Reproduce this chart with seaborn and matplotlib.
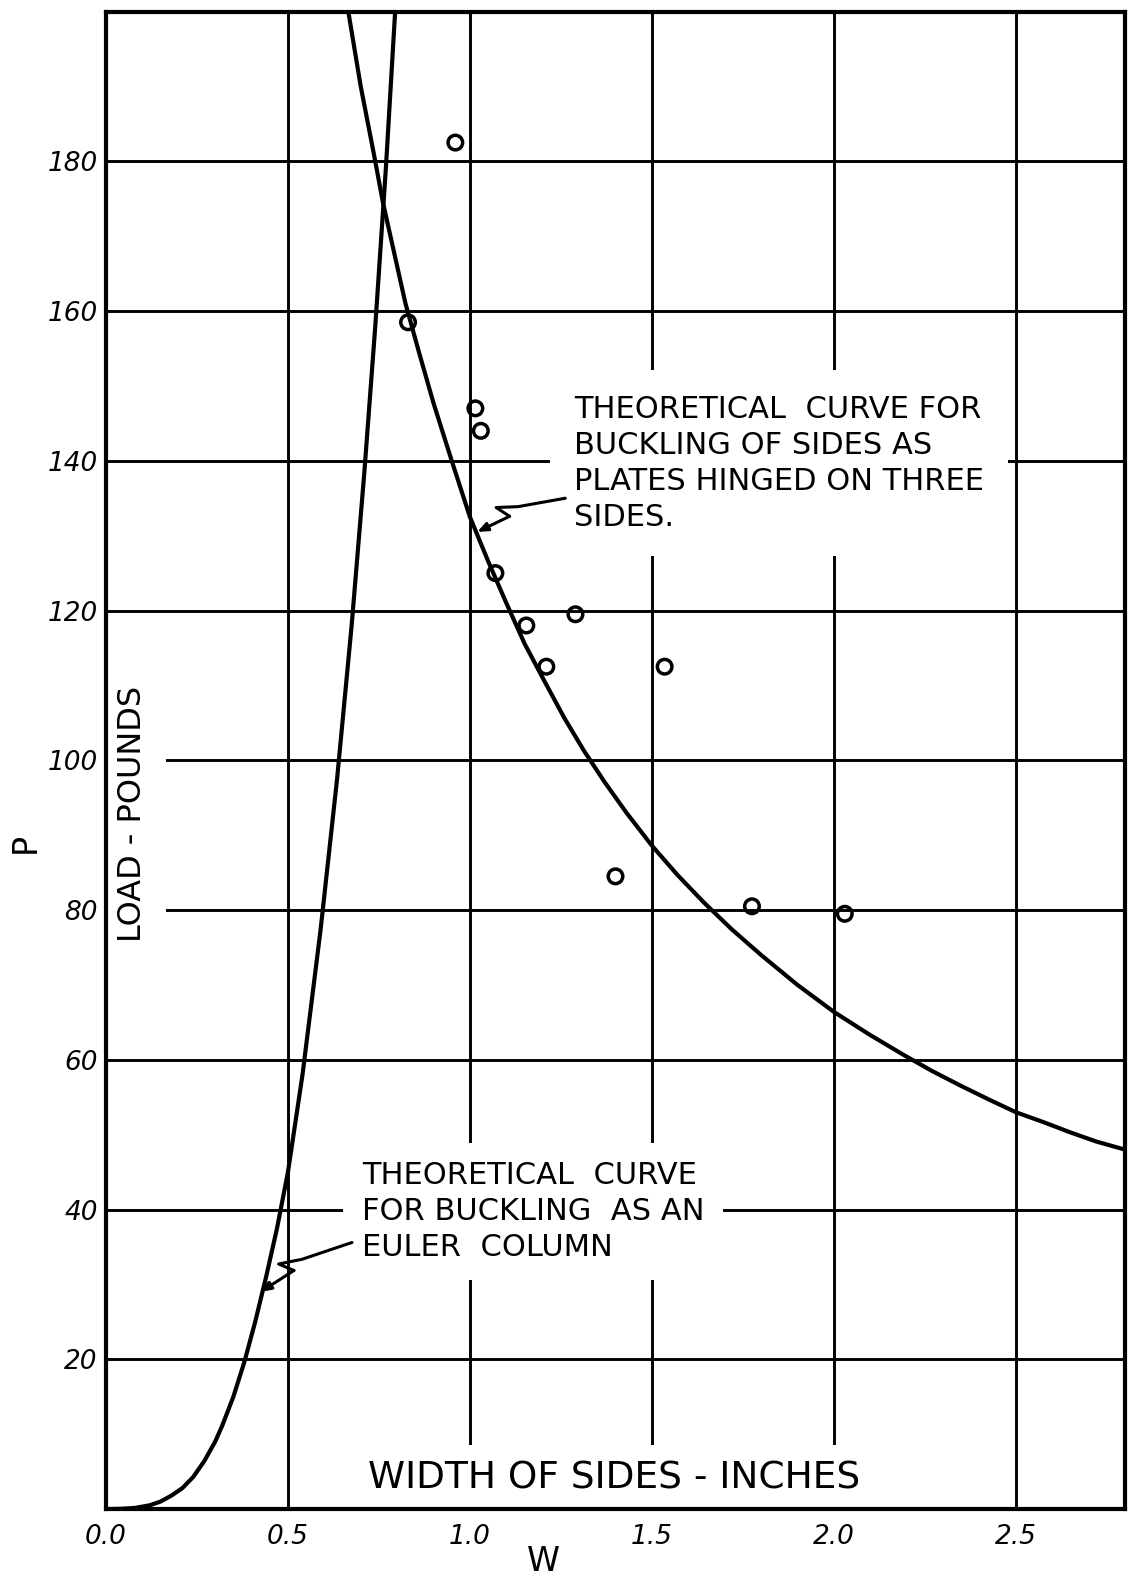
import numpy as np
import pandas as pd
import seaborn as sns
import matplotlib.pyplot as plt

# Test points: width of sides (in) and load (lb)
test_w = [0.96, 0.83, 1.015, 1.03, 1.07, 1.155, 1.29, 1.21, 1.535, 1.40, 1.775, 2.03]
test_p = [182.5, 158.5, 147, 144, 125, 118, 119.5, 112.5, 112.5, 84.5, 80.5, 79.5]

# Theoretical curve, plates hinged on three sides
plate_w = [0.659, 0.70, 0.736, 0.761, 0.80, 0.823, 0.86, 0.90, 0.95, 1.00,
           1.05, 1.10, 1.15, 1.20, 1.26, 1.313, 1.37, 1.43, 1.50, 1.57,
           1.643, 1.72, 1.80, 1.90, 2.00, 2.10, 2.19, 2.27, 2.35, 2.43,
           2.50, 2.58, 2.65, 2.72, 2.80]
plate_p = [202, 190, 181, 174.5, 166, 161, 154.5, 147.7, 140, 132.5,
           126.6, 121, 115.6, 111, 105.6, 101.3, 97.1, 93, 88.6, 84.7,
           81, 77.4, 74, 70, 66.4, 63.3, 60.7, 58.5, 56.5, 54.6,
           53, 51.6, 50.3, 49.1, 48]

# Theoretical curve, Euler column
euler_w = [0.0, 0.04, 0.08, 0.12, 0.15, 0.18, 0.21, 0.24, 0.27, 0.30, 0.32,
           0.35, 0.38, 0.41, 0.44, 0.47, 0.50, 0.54, 0.59, 0.635, 0.675,
           0.71, 0.74, 0.769, 0.797]
euler_p = [0, 0.03, 0.15, 0.5, 1.0, 1.8, 2.8, 4.3, 6.4, 9.0, 11.2,
           15.0, 19.6, 25, 31, 37.5, 45, 58, 77.5, 97.5, 118,
           138.5, 158, 179, 202]

x_ticks = [0.0, 0.5, 1.0, 1.5, 2.0, 2.5]
x_tick_labels = ["0.0", "0.5", "1.0", "1.5", "2.0", "2.5"]
y_ticks = [20, 40, 60, 80, 100, 120, 140, 160, 180]
y_tick_labels = ["20", "40", "60", "80", "100", "120", "140", "160", "180"]

sns.set_style("white")
plt.rcParams["font.family"] = ["DejaVu Sans"]
plt.rcParams["text.color"] = "black"
plt.rcParams["axes.labelcolor"] = "black"
plt.rcParams["xtick.color"] = "black"
plt.rcParams["ytick.color"] = "black"

fig = plt.figure(figsize=(11.31, 15.78), dpi=100)
ax = fig.add_axes([0.0937, 0.0437, 0.901, 0.949])

tests = pd.DataFrame({"w": test_w, "P": test_p})
plate = pd.DataFrame({"w": plate_w, "P": plate_p})
euler = pd.DataFrame({"w": euler_w, "P": euler_p})

sns.lineplot(data=plate, x="w", y="P", sort=False, estimator=None,
             color="black", linewidth=3, ax=ax, zorder=4)
sns.lineplot(data=euler, x="w", y="P", sort=False, estimator=None,
             color="black", linewidth=3, ax=ax, zorder=4)
sns.scatterplot(data=tests, x="w", y="P", marker="o", s=110,
                facecolor="none", edgecolor="black", linewidth=2.5,
                ax=ax, zorder=5)
ax.collections[-1].set_facecolor("none")

ax.set_xlim(0, 2.8)
ax.set_ylim(0, 200)
ax.set_xticks(x_ticks)
ax.set_xticklabels(x_tick_labels, fontsize=19, fontstyle="italic")
ax.set_yticks(y_ticks)
ax.set_yticklabels(y_tick_labels, fontsize=19, fontstyle="italic")
ax.tick_params(axis="both", length=0)
ax.tick_params(axis="x", pad=11)
ax.tick_params(axis="y", pad=6)

ax.set_axisbelow(True)
ax.grid(True, color="black", linewidth=2.1)
for side in ax.spines.values():
    side.set_linewidth(3)
    side.set_color("black")
    side.set_zorder(6)

ax.set_xlabel("W", fontsize=24, va="center")
ax.xaxis.set_label_coords(0.429, -0.0347)
ax.set_ylabel("P", fontsize=24, rotation=90, va="center", ha="center")
ax.yaxis.set_label_coords(-0.0795, 0.4446)

box = dict(facecolor="white", edgecolor="none", boxstyle="square,pad=0.55")

ax.text(0.074, 92.8, "LOAD - POUNDS", rotation=90, fontsize=23,
        ha="center", va="center", bbox=box, zorder=3)
ax.text(1.396, 4.1, "WIDTH OF SIDES - INCHES", fontsize=27,
        ha="center", va="center", zorder=3,
        bbox=dict(facecolor="white", edgecolor="none", boxstyle="square,pad=0.4"))

ax.text(1.286, 148.8,
        "THEORETICAL  CURVE FOR\nBUCKLING OF SIDES AS\nPLATES HINGED ON THREE\nSIDES.",
        fontsize=22, ha="left", va="top", linespacing=1.3,
        bbox=dict(facecolor="white", edgecolor="none", boxstyle="square,pad=0.8"),
        zorder=3)
ax.text(0.703, 46.5,
        "THEORETICAL  CURVE\nFOR BUCKLING  AS AN\nEULER  COLUMN",
        fontsize=22, ha="left", va="top", linespacing=1.3,
        bbox=dict(facecolor="white", edgecolor="none", boxstyle="square,pad=0.6"),
        zorder=3)


def squiggle(ax, start, tip):
    # hand-drawn style leader: straight run, a small zig, then the arrow
    shape = [(0.0, 0.0), (0.5, 9.0), (0.72, 16.0), (0.62, 3.0), (1.0, 0.0)]
    p0 = ax.transData.transform(start)
    p1 = ax.transData.transform(tip)
    d = p1 - p0
    u = d / np.hypot(*d)
    n = np.array([u[1], -u[0]])
    pts = np.array([p0 + t * d + k * n for t, k in shape])
    pts = ax.transData.inverted().transform(pts)
    ax.plot(pts[:-1, 0], pts[:-1, 1], color="black", lw=2.2,
            solid_capstyle="round", solid_joinstyle="round", zorder=5)
    ax.annotate("", xy=tip, xytext=pts[-2],
                arrowprops=dict(arrowstyle="-|>,head_length=0.6,head_width=0.25",
                                color="black", lw=2.2, shrinkA=0, shrinkB=0),
                zorder=5)


squiggle(ax, (1.262, 135.0), (1.02, 130.5))
squiggle(ax, (0.676, 35.6), (0.425, 29.0))

fig.savefig("out.png", dpi=100)
